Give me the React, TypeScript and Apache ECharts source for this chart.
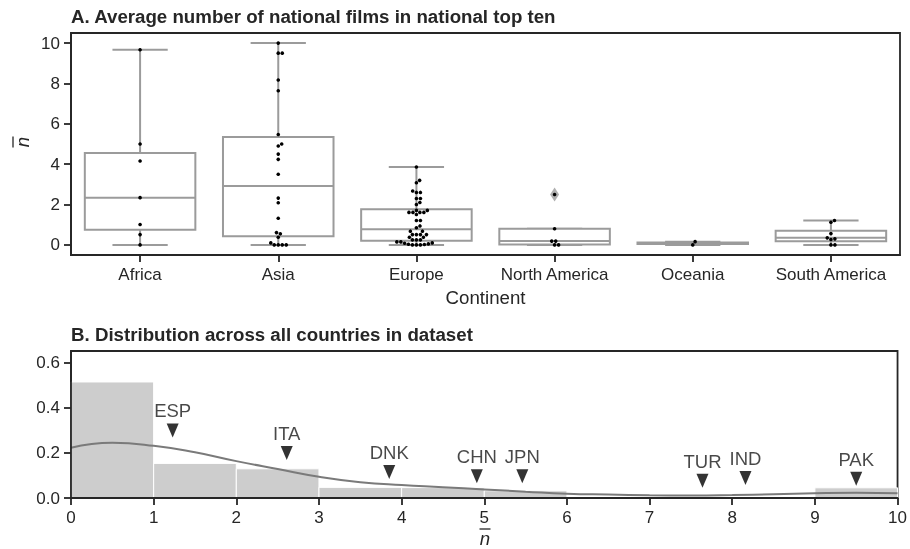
import React, { useEffect, useRef } from "react";
import * as echarts from "echarts";

// ---------- Panel A data ----------
const continents = ["Africa", "Asia", "Europe", "North America", "Oceania", "South America"];
const africaValues = [9.67, 5.0, 4.16, 2.34, 1.01, 0.51, 0];
const asiaValues = [10.0, 9.5, 9.5, 8.17, 7.64, 5.47, 5.0, 4.9, 4.5, 4.24, 3.5, 2.32, 2.09, 1.32, 0.61, 0.55, 0.38, 0.1, 0, 0, 0, 0];
const europeValues = [3.86, 3.2, 3.08, 2.67, 2.6, 2.6, 2.3, 2.3, 2.1, 2.0, 1.71, 1.71, 1.61, 1.61, 1.61, 1.61, 1.51, 1.21, 1.21, 0.94, 0.85, 0.68, 0.68, 0.51, 0.51, 0.51, 0.51, 0.38, 0.38, 0.25, 0.25, 0.25, 0.15, 0.15, 0.1, 0.08, 0.05, 0.03, 0.02, 0, 0, 0];
const northAmericaValues = [2.5, 0.8, 0.19, 0.19, 0, 0];
const oceaniaValues = [0.16, 0];
const southAmericaValues = [1.21, 1.12, 0.56, 0.35, 0.3, 0.27, 0, 0];
const continentValues = [africaValues, asiaValues, europeValues, northAmericaValues, oceaniaValues, southAmericaValues];
// [lower whisker, Q1, median, Q3, upper whisker]
const boxStats = [
  [0, 0.75, 2.34, 4.56, 9.67],
  [0, 0.43, 2.92, 5.35, 10.0],
  [0, 0.21, 0.78, 1.77, 3.86],
  [0, 0.02, 0.19, 0.8, 0.8],
  [0, 0.04, 0.08, 0.12, 0.16],
  [0, 0.18, 0.35, 0.7, 1.21],
];
const outlierPoints = [[3, 2.5]];
const yTicksA = [0, 2, 4, 6, 8, 10];

// ---------- Panel B data ----------
const binEdges = [0, 1, 2, 3, 4, 5, 6, 7, 8, 9, 10];
const binDensity = [0.513, 0.153, 0.129, 0.047, 0.046, 0.032, 0, 0, 0, 0.045];
const kdeX = [0, 0.5, 1, 1.5, 2, 2.5, 3, 3.5, 4, 4.5, 5, 5.5, 6, 6.5, 7, 7.5, 8, 8.5, 9, 9.5, 10];
const kdeY = [0.222, 0.244, 0.231, 0.202, 0.163, 0.128, 0.094, 0.07, 0.057, 0.048, 0.038, 0.028, 0.019, 0.015, 0.012, 0.011, 0.013, 0.017, 0.021, 0.023, 0.021];
const yTicksB = [0, 0.2, 0.4, 0.6];
const annCodes = ["ESP", "ITA", "DNK", "CHN", "JPN", "TUR", "IND", "PAK"];
const annX = [1.23, 2.61, 3.85, 4.91, 5.46, 7.64, 8.16, 9.5];
const annY = [0.268, 0.168, 0.084, 0.065, 0.065, 0.045, 0.057, 0.054];

// ---------- layout constants ----------
const W = 910;
const H = 549;
const GRID_L = 71;
const GRID_R = 10;
const A_TOP = 33;
const A_H = 222;
const A_MIN = -0.5;
const A_MAX = 10.5;
const B_TOP = 351;
const B_H = 147;
const TXT = "#262626";
const FONT = "Liberation Sans, Arial, Helvetica, sans-serif";
const BOX_C = "#9b9b9b";

function swarmOffsets(values: number[], pxPerUnit: number, d: number): number[] {
  const order = values.map((v, i) => ({ v, i })).sort((a, b) => a.v - b.v);
  const placed: { x: number; y: number }[] = [];
  const out: number[] = new Array(values.length).fill(0);
  for (const p of order) {
    const y = p.v * pxPerUnit;
    const cands: number[] = [0];
    for (const q of placed) {
      const dy = Math.abs(q.y - y);
      if (dy < d) {
        const dx = Math.sqrt(d * d - dy * dy);
        cands.push(q.x + dx, q.x - dx);
      }
    }
    cands.sort((a, b) => Math.abs(a) - Math.abs(b));
    let best = 0;
    for (const c of cands) {
      let ok = true;
      for (const q of placed) {
        if ((q.x - c) ** 2 + (q.y - y) ** 2 < d * d - 1e-6) {
          ok = false;
          break;
        }
      }
      if (ok) {
        best = c;
        break;
      }
    }
    placed.push({ x: best, y });
    out[p.i] = best;
  }
  return out;
}

export default function App() {
  const ref = useRef<HTMLDivElement>(null);
  useEffect(() => {
    if (!ref.current) return;
    const chart = echarts.init(ref.current, undefined, { renderer: "svg" });
    const pxPerUnit = A_H / (A_MAX - A_MIN);
    const dots: number[][] = [];
    continentValues.forEach((vals, ci) => {
      const offs = swarmOffsets(vals, pxPerUnit, 4);
      vals.forEach((v, k) => dots.push([ci, v, offs[k]]));
    });
    const boxData = boxStats.map((s, i) => [i, ...s]);
    const histData = binDensity
      .map((h, i) => [binEdges[i], binEdges[i + 1], h])
      .filter((d) => d[2] > 0);
    const kdeData = kdeX.map((x, i) => [x, kdeY[i]]);
    const annData = annX.map((x, i) => ({ value: [x, annY[i]], name: annCodes[i] }));

    const axisLineStyle = { color: TXT, width: 1.8 };
    const tick = { show: true, length: 7, inside: false, lineStyle: { color: TXT, width: 1.8 } };
    const labelBase = { color: TXT, fontSize: 17, fontFamily: FONT };

    const option: any = {
      animation: false,
      textStyle: { fontFamily: FONT, color: TXT },
      title: [
        {
          text: "A. Average number of national films in national top ten",
          left: GRID_L,
          top: 7,
          padding: 0,
          textStyle: { fontSize: 18.7, fontWeight: "bold", color: TXT, fontFamily: FONT },
        },
        {
          text: "B. Distribution across all countries in dataset",
          left: GRID_L,
          top: 325,
          padding: 0,
          textStyle: { fontSize: 18.7, fontWeight: "bold", color: TXT, fontFamily: FONT },
        },
      ],
      grid: [
        { left: GRID_L, right: GRID_R, top: A_TOP, height: A_H, show: true, borderColor: TXT, borderWidth: 1.8, backgroundColor: "transparent" },
        { left: GRID_L, right: GRID_R, top: B_TOP, height: B_H, show: true, borderColor: TXT, borderWidth: 1.8, backgroundColor: "transparent" },
      ],
      xAxis: [
        {
          type: "category",
          gridIndex: 0,
          data: continents,
          boundaryGap: true,
          z: 10,
          axisLine: { show: true, onZero: false, lineStyle: axisLineStyle },
          axisTick: { ...tick, alignWithLabel: true, interval: 0 },
          axisLabel: { ...labelBase, margin: 11, interval: 0 },
          splitLine: { show: false },
          name: "Continent",
          nameLocation: "middle",
          nameGap: 33,
          nameTextStyle: { fontSize: 18.7, color: TXT, fontFamily: FONT },
        },
        {
          type: "value",
          gridIndex: 1,
          min: 0,
          max: 10,
          interval: 1,
          z: 10,
          axisLine: { show: true, onZero: false, lineStyle: axisLineStyle },
          axisTick: tick,
          axisLabel: { ...labelBase, margin: 11 },
          splitLine: { show: false },
        },
      ],
      yAxis: [
        {
          type: "value",
          gridIndex: 0,
          min: A_MIN,
          max: A_MAX,
          z: 10,
          axisLine: { show: true, onZero: false, lineStyle: axisLineStyle },
          axisTick: { ...tick, customValues: yTicksA },
          axisLabel: { ...labelBase, margin: 11, customValues: yTicksA },
          splitLine: { show: false },
        },
        {
          type: "value",
          gridIndex: 1,
          min: 0,
          max: 0.65,
          z: 10,
          axisLine: { show: true, onZero: false, lineStyle: axisLineStyle },
          axisTick: { ...tick, customValues: yTicksB },
          axisLabel: { ...labelBase, margin: 11, customValues: yTicksB, formatter: (v: number) => v.toFixed(1) },
          splitLine: { show: false },
        },
      ],
      graphic: [
        {
          type: "group",
          x: 22,
          y: 142,
          rotation: Math.PI / 2,
          children: [
            { type: "text", x: 0, y: 0, style: { text: "n", font: `italic 18.7px ${FONT}`, fill: TXT, align: "center", verticalAlign: "middle" } },
            { type: "line", shape: { x1: -5.5, y1: -9, x2: 5.5, y2: -9 }, style: { stroke: TXT, lineWidth: 1.3 } },
          ],
        },
        {
          type: "group",
          x: 485,
          y: 538,
          children: [
            { type: "text", x: 0, y: 0, style: { text: "n", font: `italic 18.7px ${FONT}`, fill: TXT, align: "center", verticalAlign: "middle" } },
            { type: "line", shape: { x1: -5.5, y1: -9, x2: 5.5, y2: -9 }, style: { stroke: TXT, lineWidth: 1.3 } },
          ],
        },
      ],
      series: [
        {
          type: "custom",
          xAxisIndex: 0,
          yAxisIndex: 0,
          data: boxData,
          encode: { x: 0, y: [1, 2, 3, 4, 5] },
          renderItem: (params: any, api: any) => {
            const cat = api.value(0);
            const mn = api.value(1), q1 = api.value(2), md = api.value(3), q3 = api.value(4), mx = api.value(5);
            const bw = api.size([1, 0])[0];
            const boxW = bw * 0.8;
            const capW = boxW * 0.5;
            const cx = api.coord([cat, md])[0];
            const y = (v: number) => api.coord([cat, v])[1];
            const st = { stroke: BOX_C, lineWidth: 2, fill: null };
            return {
              type: "group",
              children: [
                { type: "line", shape: { x1: cx, y1: y(q1), x2: cx, y2: y(mn) }, style: st },
                { type: "line", shape: { x1: cx, y1: y(q3), x2: cx, y2: y(mx) }, style: st },
                { type: "line", shape: { x1: cx - capW / 2, y1: y(mn), x2: cx + capW / 2, y2: y(mn) }, style: st },
                { type: "line", shape: { x1: cx - capW / 2, y1: y(mx), x2: cx + capW / 2, y2: y(mx) }, style: st },
                { type: "rect", shape: { x: cx - boxW / 2, y: y(q3), width: boxW, height: y(q1) - y(q3) }, style: { fill: "#ffffff", stroke: BOX_C, lineWidth: 2 } },
                { type: "line", shape: { x1: cx - boxW / 2, y1: y(md), x2: cx + boxW / 2, y2: y(md) }, style: st },
              ],
            };
          },
          z: 2,
        },
        {
          type: "scatter",
          xAxisIndex: 0,
          yAxisIndex: 0,
          data: outlierPoints,
          symbol: "diamond",
          symbolSize: [9, 14],
          itemStyle: { color: BOX_C },
          z: 3,
        },
        {
          type: "custom",
          xAxisIndex: 0,
          yAxisIndex: 0,
          data: dots,
          encode: { x: 0, y: 1 },
          renderItem: (params: any, api: any) => {
            const p = api.coord([api.value(0), api.value(1)]);
            return { type: "circle", shape: { cx: p[0] + api.value(2), cy: p[1], r: 1.8 }, style: { fill: "#000000" } };
          },
          z: 4,
        },
        {
          type: "custom",
          xAxisIndex: 1,
          yAxisIndex: 1,
          data: histData,
          encode: { x: [0, 1], y: 2 },
          renderItem: (params: any, api: any) => {
            const p0 = api.coord([api.value(0), api.value(2)]);
            const p1 = api.coord([api.value(1), 0]);
            return {
              type: "rect",
              shape: { x: p0[0], y: p0[1], width: p1[0] - p0[0], height: p1[1] - p0[1] },
              style: { fill: "#cdcdcd", stroke: "#ffffff", lineWidth: 1 },
            };
          },
          z: 2,
        },
        {
          type: "line",
          xAxisIndex: 1,
          yAxisIndex: 1,
          data: kdeData,
          smooth: 0.5,
          showSymbol: false,
          symbol: "none",
          lineStyle: { color: "#7a7a7a", width: 2 },
          z: 3,
        },
        {
          type: "scatter",
          xAxisIndex: 1,
          yAxisIndex: 1,
          data: annData,
          symbol: "path://M0,0 L12,0 L6,14 Z",
          symbolSize: [12, 14],
          symbolOffset: [0, "-50%"],
          itemStyle: { color: "#000000" },
          label: {
            show: true,
            position: "top",
            distance: 3,
            formatter: (p: any) => p.name,
            fontSize: 18.5,
            color: "#1a1a1a",
            fontFamily: FONT,
          },
          z: 5,
        },
      ],
    };
    chart.setOption(option);
    return () => chart.dispose();
  }, []);
  return <div ref={ref} style={{ position: "fixed", left: 0, top: 0, width: W, height: H }} />;
}
